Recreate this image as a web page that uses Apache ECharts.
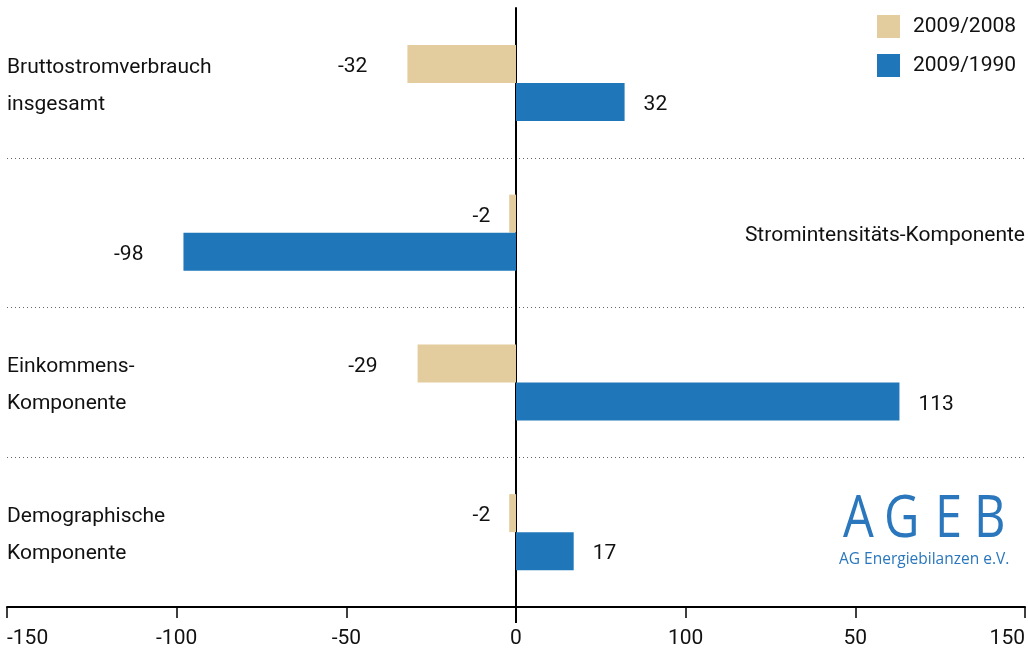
<!DOCTYPE html>
<html>
<head>
<meta charset="utf-8">
<script src="https://cdn.jsdelivr.net/npm/echarts@6/dist/echarts.min.js"></script>
<style>
  html, body { margin: 0; padding: 0; background: #fff; }
  #chart { width: 1028px; height: 654px; }
</style>
</head>
<body>
<div id="chart"></div>
<script>
// Components of the change in gross electricity consumption
const categories = [
  'Bruttostromverbrauch\ninsgesamt',
  'Stromintensitäts-Komponente',
  'Einkommens-\nKomponente',
  'Demographische\nKomponente'
];
const seriesNames = ['2009/2008', '2009/1990'];
const change2008 = [-32, -2, -29, -2];
const change1990 = [32, -98, 113, 17];
const tickLabels = ['-150', '-100', '-50', '0', '100', '50', '150'];

const FONT = 'Roboto';
const FS = 21;
const TEXT = '#111';
const TAN = '#e3cc9e';
const BLUE = '#1f77ba';
const LOGO = '#2a77bd';
const AXIS_MIN = -150, AXIS_MAX = 150, AXIS_STEP = 50;

function barData(values) {
  return values.map(v => ({
    value: v,
    label: {
      position: v < 0 ? 'left' : 'right',
      distance: v < -5 ? 40 : 19
    }
  }));
}

// category names sit on the side away from the long bar
const nameLabels = categories.map((c, i) => {
  const right = change1990[i] < 0;
  return {
    value: [right ? AXIS_MAX : AXIS_MIN, i],
    name: c,
    label: { position: right ? 'left' : 'right', align: right ? 'right' : 'left' }
  };
});

const valueLabel = { show: true, fontSize: FS, color: TEXT, fontFamily: FONT, offset: [0, 3] };

const chart = echarts.init(document.getElementById('chart'));
chart.setOption({
  animation: false,
  textStyle: { fontFamily: FONT },
  grid: { left: 7, right: 1, top: 8, bottom: 47, containLabel: false },
  legend: {
    orient: 'vertical',
    left: 872,
    top: 10,
    itemWidth: 23,
    itemHeight: 23,
    itemGap: 16,
    icon: 'rect',
    data: seriesNames,
    textStyle: { fontSize: FS, color: TEXT, fontFamily: FONT, padding: [0, 0, 0, 8] }
  },
  xAxis: [{
    type: 'value',
    min: AXIS_MIN,
    max: AXIS_MAX,
    interval: AXIS_STEP,
    splitLine: { show: false },
    axisLine: { show: true, onZero: false, lineStyle: { color: '#000', width: 2 } },
    axisTick: { show: true, length: 11, lineStyle: { color: '#000', width: 1.5 } },
    axisLabel: {
      fontSize: FS,
      color: TEXT,
      fontFamily: FONT,
      margin: 21,
      alignMinLabel: 'left',
      alignMaxLabel: 'right',
      formatter: v => tickLabels[Math.round((v - AXIS_MIN) / AXIS_STEP)]
    }
  }, {
    // longer tick under the zero line
    type: 'value',
    position: 'bottom',
    min: AXIS_MIN,
    max: AXIS_MAX,
    splitLine: { show: false },
    axisLine: { show: false },
    axisLabel: { show: false },
    axisTick: { show: true, length: 16, customValues: [0], lineStyle: { color: '#000', width: 2 } }
  }],
  yAxis: {
    type: 'category',
    data: categories,
    inverse: true,
    axisLine: { show: true, onZero: true, lineStyle: { color: '#000', width: 2 } },
    axisTick: { show: false },
    axisLabel: { show: false },
    splitLine: {
      show: true,
      showMinLine: false,
      showMaxLine: false,
      lineStyle: { color: '#666', width: 1, type: [1, 3] }
    }
  },
  series: [{
    name: seriesNames[0],
    type: 'bar',
    barWidth: 38,
    barGap: '0%',
    itemStyle: { color: TAN },
    label: valueLabel,
    data: barData(change2008)
  }, {
    name: seriesNames[1],
    type: 'bar',
    barWidth: 38,
    barGap: '0%',
    itemStyle: { color: BLUE },
    label: valueLabel,
    data: barData(change1990)
  }, {
    name: 'Komponente',
    type: 'scatter',
    symbolSize: 0,
    silent: true,
    clip: false,
    itemStyle: { opacity: 1 },
    label: {
      show: true,
      distance: 0,
      fontSize: FS,
      lineHeight: 37,
      color: TEXT,
      fontFamily: FONT,
      offset: [0, 3],
      formatter: p => p.name
    },
    data: nameLabels
  }],
  graphic: [{
    type: 'group',
    left: 839,
    top: 491,
    children: [
      { type: 'text', x: 0, y: 0, scaleX: 0.84, style: { text: 'A', font: '400 58px "Open Sans"', fill: LOGO } },
      { type: 'text', x: 41, y: 0, scaleX: 0.84, style: { text: 'G', font: '400 58px "Open Sans"', fill: LOGO } },
      { type: 'text', x: 92, y: 0, scaleX: 0.84, style: { text: 'E', font: '400 58px "Open Sans"', fill: LOGO } },
      { type: 'text', x: 131, y: 0, scaleX: 0.84, style: { text: 'B', font: '400 58px "Open Sans"', fill: LOGO } },
      { type: 'text', x: -4, y: 61, style: { text: 'AG Energiebilanzen e.V.', font: '400 15.5px "Open Sans"', fill: LOGO } }
    ]
  }]
});
</script>
</body>
</html>
